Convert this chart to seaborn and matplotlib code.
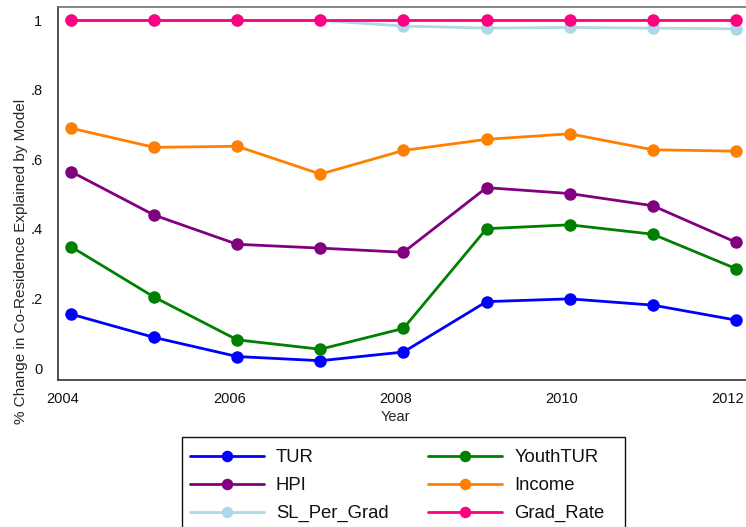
import matplotlib
matplotlib.use("Agg")
import matplotlib.pyplot as plt
import matplotlib.transforms as mtransforms
from matplotlib.patches import Rectangle
import seaborn as sns
import pandas as pd

years = [2004, 2005, 2006, 2007, 2008, 2009, 2010, 2011, 2012]
tur = [0.155, 0.088, 0.033, 0.021, 0.046, 0.191, 0.199, 0.181, 0.138]
youth_tur = [0.349, 0.204, 0.081, 0.054, 0.114, 0.401, 0.412, 0.385, 0.286]
hpi = [0.565, 0.440, 0.356, 0.345, 0.333, 0.519, 0.502, 0.467, 0.362]
income = [0.690, 0.635, 0.638, 0.558, 0.626, 0.658, 0.674, 0.628, 0.624]
sl_per_grad = [1.000, 1.000, 1.000, 1.000, 0.984, 0.978, 0.980, 0.978, 0.976]
grad_rate = [1.000, 1.000, 1.000, 1.000, 1.000, 1.000, 1.000, 1.000, 1.000]

series_names = ["TUR", "YouthTUR", "HPI", "Income", "SL_Per_Grad", "Grad_Rate"]
series_values = [tur, youth_tur, hpi, income, sl_per_grad, grad_rate]
series_colors = ["#0000FF", "#008000", "#800080", "#FF8000", "#ADD8E6", "#FF0080"]

x_ticks = [2004, 2006, 2008, 2010, 2012]
y_ticks = [0, 0.2, 0.4, 0.6, 0.8, 1.0]
y_tick_labels = ["0", ".2", ".4", ".6", ".8", "1"]

rows = []
for name, vals in zip(series_names, series_values):
    for yr, v in zip(years, vals):
        rows.append({"Year": yr, "value": v, "series": name})
df = pd.DataFrame(rows)

sns.set_style("white")
plt.rcParams["font.family"] = ["Liberation Sans", "DejaVu Sans"]

W, H = 746, 527
fig = plt.figure(figsize=(W / 100, H / 100), dpi=100)
ax = fig.add_axes([58 / W, 147 / H, 1 - 58 / W + 0.002, 373 / H])

sns.lineplot(
    data=df, x="Year", y="value", hue="series", hue_order=series_names,
    palette=dict(zip(series_names, series_colors)), marker="o",
    markersize=9, markeredgewidth=0, linewidth=2.0, legend=False, ax=ax,
)

ax.set_xlim(2003.843, 2012.14)
ax.set_ylim(-0.0345, 1.0388)
ax.set_xticks(x_ticks)
ax.set_xticklabels([str(t) for t in x_ticks])
ax.set_yticks(y_ticks)
ax.set_yticklabels(y_tick_labels)
ax.tick_params(axis="both", direction="in", length=5, width=0.9, color="#222222",
               labelsize=10.5, colors="#111111")
ax.tick_params(axis="x", pad=8.5)
ax.tick_params(axis="y", pad=11.2)

# x labels sit slightly left of their ticks
shift = mtransforms.ScaledTranslation(-8 / 100, 0, fig.dpi_scale_trans)
for lbl in ax.get_xticklabels():
    lbl.set_transform(lbl.get_transform() + shift)

for side in ["left", "bottom"]:
    ax.spines[side].set_color("#222222")
    ax.spines[side].set_linewidth(1.1)
ax.spines["top"].set_color("#666666")
ax.spines["top"].set_linewidth(1.1)
ax.spines["right"].set_visible(False)

ax.set_xlabel("Year", fontsize=10.5)
ax.xaxis.set_label_coords((395 - 58) / 688, (380 - 410) / 373)
ax.xaxis.label.set_va("top")
ax.set_ylabel("% Change in Co-Residence Explained by Model", fontsize=11)
ax.yaxis.set_label_coords((28 - 58) / 688, (380 - 261.5) / 373)

# legend: row-major order across two columns
order = [0, 2, 4, 1, 3, 5]
handles = [ax.lines[i] for i in order]
labels = [series_names[i] for i in order]
fig.legend(
    handles, labels, ncol=2, loc="upper left",
    bbox_to_anchor=(190 / W, 1 - 449 / H),
    fontsize=13.3, frameon=False, markerscale=0.92, labelcolor="#111111",
    handlelength=4.0, handletextpad=0.65, columnspacing=2.16, labelspacing=0.6,
    borderpad=0, borderaxespad=0,
)
fig.patches.append(Rectangle((181.7 / W, -0.01), (625 - 181.7) / W, 1 - 436.7 / H + 0.01,
                             transform=fig.transFigure, fill=False,
                             edgecolor="#111111", linewidth=1.0))

fig.savefig("out.png", dpi=100)
